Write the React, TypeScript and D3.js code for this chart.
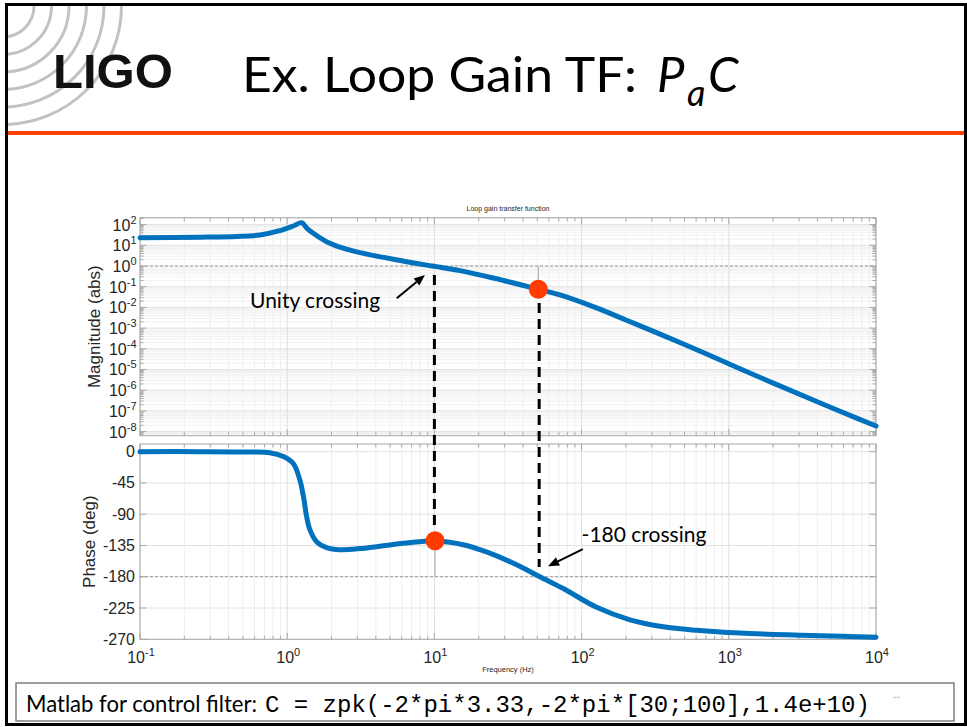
import * as d3 from "d3";
import React from "react";

const W = 967;
const H = 727;

// loop gain: frequency (Hz) vs magnitude (abs)
const magFreq = [0.1, 0.256, 0.45, 0.653, 0.889, 1.1, 1.255, 1.363, 1.504, 1.85, 2.4, 3.12, 5.26, 8.87, 10.3, 14.9, 25.1, 50.8, 71.3, 120, 202, 341, 707, 1191, 2006, 3380, 5690, 10000];
const magValue = [23.3, 24.6, 26.6, 31.5, 50.7, 85.6, 123.6, 66, 38, 14.9, 7.2, 4.4, 2.1, 1.1, 0.93, 0.6, 0.263, 0.0749, 0.0398, 0.0108, 0.0024, 0.00051, 0.000056, 0.0000108, 0.0000022, 4.6e-7, 9.6e-8, 1.86e-8];

// frequency (Hz) vs phase (deg)
const phaseFreq = [0.1, 0.256, 0.559, 0.764, 0.941, 1.1, 1.22, 1.29, 1.357, 1.43, 1.59, 1.85, 2.28, 3.12, 4.27, 7.19, 10.1, 15.7, 20.4, 26.5, 38, 52, 75.1, 126.6, 213, 359, 605, 1191, 3050, 10000];
const phaseValue = [0, 0, -0.5, -1.5, -7, -17, -41, -65, -94, -113, -130, -138, -141, -139.5, -136, -130.5, -128.3, -134, -141, -150, -165, -180, -197, -224, -242, -252, -257, -261, -264, -267];

const xTickExp = [-1, 0, 1, 2, 3, 4];
const magTickExp = [2, 1, 0, -1, -2, -3, -4, -5, -6, -7, -8];
const phaseTicks = [0, -45, -90, -135, -180, -225, -270];

// annotations (data coordinates)
const magDot = { f: 50.8, v: 0.0749 };
const phaseDot = { f: 10.1, v: -128.3 };
const dashUnity = { f: 10, magFrom: 0.37, phaseTo: -113 };
const dashPhase = { f: 51.5, magFrom: 0.0163, phaseTo: -166 };
const unityArrow = { f0: 5.55, v0: 0.0275, f1: 8.63, v1: 0.367 };
const phaseArrow = { f0: 102, v0: -140.3, f1: 59.2, v1: -164.8 };
const unityLabel = { f: 0.559, v: 0.0093, text: "Unity crossing" };
const phaseLabel = { f: 100, v: -130, text: "-180 crossing" };

const logoArcRadii = [31, 48.5, 66, 83.5, 101, 118.5];

const left = 140;
const right = 876;
const magTop = 217.7;
const magBottom = 435.7;
const phTop = 444;
const phBottom = 639.3;

const x = d3.scaleLog().domain([0.1, 1e4]).range([left, right]);
const yMag = d3.scaleLog().domain([10 ** -8.198, 10 ** 2.333]).range([magBottom, magTop]);
const yPh = d3.scaleLinear().domain([-270, 11]).range([phBottom, phTop]);

const minorOf = (exps: number[]) =>
  exps.flatMap((k) => d3.range(2, 10).map((m) => m * 10 ** k));

const xMinor = minorOf([-1, 0, 1, 2, 3]);
const magMinor = minorOf(d3.range(-9, 3)).filter(
  (v) => v > yMag.domain()[0] && v < yMag.domain()[1]
);

const sans = "'Liberation Sans', Arial, sans-serif";
const slideFont = "Lato, 'Open Sans', sans-serif";
const axisGray = "#a8a8a8";
const textGray = "#262626";
const blue = "#0072BD";
const red = "#ff3b00";

const magLine = d3
  .line<number>()
  .x((d, i) => x(magFreq[i]))
  .y((d) => yMag(d))
  .curve(d3.curveCatmullRom.alpha(0.5));

const phaseLine = d3
  .line<number>()
  .x((d, i) => x(phaseFreq[i]))
  .y((d) => yPh(d))
  .curve(d3.curveCatmullRom.alpha(0.5));

const Panel = ({ top, bottom, kind }: { top: number; bottom: number; kind: "mag" | "ph" }) => {
  const hMajor = kind === "mag" ? magTickExp.map((e) => yMag(10 ** e)) : phaseTicks.map((t) => yPh(t));
  const hMinor = kind === "mag" ? magMinor.map((v) => yMag(v)) : [];
  return (
    <g>
      {/* grid */}
      {xMinor.map((f) => (
        <line key={"vm" + f} x1={x(f)} x2={x(f)} y1={top} y2={bottom} stroke="#efefef" />
      ))}
      {hMinor.map((y, i) => (
        <line key={"hm" + i} x1={left} x2={right} y1={y} y2={y} stroke="#f1f1f1" />
      ))}
      {xTickExp.map((e) => (
        <line key={"vM" + e} x1={x(10 ** e)} x2={x(10 ** e)} y1={top} y2={bottom} stroke="#dedede" />
      ))}
      {hMajor.map((y, i) => (
        <line key={"hM" + i} x1={left} x2={right} y1={y} y2={y} stroke="#e2e2e2" />
      ))}
      {/* ticks */}
      {xMinor.map((f) => (
        <g key={"tm" + f} stroke={axisGray}>
          <line x1={x(f)} x2={x(f)} y1={top} y2={top + 3.5} />
          <line x1={x(f)} x2={x(f)} y1={bottom} y2={bottom - 3.5} />
        </g>
      ))}
      {xTickExp.map((e) => (
        <g key={"tM" + e} stroke={axisGray}>
          <line x1={x(10 ** e)} x2={x(10 ** e)} y1={top} y2={top + 6.5} />
          <line x1={x(10 ** e)} x2={x(10 ** e)} y1={bottom} y2={bottom - 6.5} />
        </g>
      ))}
      {hMinor.map((y, i) => (
        <g key={"ym" + i} stroke={axisGray}>
          <line x1={left} x2={left + 3.5} y1={y} y2={y} />
          <line x1={right} x2={right - 3.5} y1={y} y2={y} />
        </g>
      ))}
      {hMajor.map((y, i) => (
        <g key={"yM" + i} stroke={axisGray}>
          <line x1={left} x2={left + 6.5} y1={y} y2={y} />
          <line x1={right} x2={right - 6.5} y1={y} y2={y} />
        </g>
      ))}
      <rect x={left} y={top} width={right - left} height={bottom - top} fill="none" stroke={axisGray} />
    </g>
  );
};

const arrowPath = (x0: number, y0: number, x1: number, y1: number) => {
  const ang = Math.atan2(y1 - y0, x1 - x0);
  const len = 11;
  const wid = 4.5;
  const bx = x1 - len * Math.cos(ang);
  const by = y1 - len * Math.sin(ang);
  const px = -Math.sin(ang) * wid;
  const py = Math.cos(ang) * wid;
  return {
    shaft: `M${x0},${y0}L${bx},${by}`,
    head: `M${x1},${y1}L${bx + px},${by + py}L${bx - px},${by - py}Z`,
  };
};

const App = () => {
  const ua = arrowPath(x(unityArrow.f0), yMag(unityArrow.v0), x(unityArrow.f1), yMag(unityArrow.v1));
  const pa = arrowPath(x(phaseArrow.f0), yPh(phaseArrow.v0), x(phaseArrow.f1), yPh(phaseArrow.v1));
  return (
    <svg width={W} height={H} style={{ position: "absolute", left: 0, top: 0, background: "#fff" }}>
      <defs>
        <clipPath id="slide">
          <rect x={8} y={6} width={956} height={716} />
        </clipPath>
      </defs>

      {/* header */}
      <g clipPath="url(#slide)">
        {logoArcRadii.map((r) => (
          <path key={r} d={`M${3 + r},6A${r},${r} 0 0 1 3,${6 + r}`} fill="none" stroke="#c2c2c2" strokeWidth={3} />
        ))}
      </g>
      <text x={53} y={88} fontFamily={sans} fontWeight={900} fontSize={49} fill="#111" textLength={120} lengthAdjust="spacingAndGlyphs">
        LIGO
      </text>
      <text x={242} y={92} fontFamily={slideFont} fontSize={49} fill="#000" textLength={395} lengthAdjust="spacingAndGlyphs">
        Ex. Loop Gain TF:
      </text>
      <text x={657} y={92} fontFamily={slideFont} fontStyle="italic" fontSize={49} fill="#000">P</text>
      <text x={687} y={106} fontFamily={slideFont} fontStyle="italic" fontSize={36} fill="#000">a</text>
      <text x={708} y={92} fontFamily={slideFont} fontStyle="italic" fontSize={49} fill="#000">C</text>
      <line x1={8} x2={965} y1={133} y2={133} stroke="#ff4000" strokeWidth={4} />

      {/* chart */}
      <Panel top={magTop} bottom={magBottom} kind="mag" />
      <Panel top={phTop} bottom={phBottom} kind="ph" />
      <line x1={left} x2={right} y1={yMag(1)} y2={yMag(1)} stroke="#9a9a9a" strokeDasharray="3,2" />
      <line x1={left} x2={right} y1={yPh(-180)} y2={yPh(-180)} stroke="#9a9a9a" strokeDasharray="3,2" />

      <text x={(left + right) / 2} y={210.5} textAnchor="middle" fontFamily={sans} fontSize={7} fill={textGray}>
        Loop gain transfer function
      </text>
      <text x={(left + right) / 2} y={672} textAnchor="middle" fontFamily={sans} fontSize={7.5} fill={textGray}>
        Frequency  (Hz)
      </text>
      <text transform={`translate(100,${(magTop + magBottom) / 2}) rotate(-90)`} textAnchor="middle" fontFamily={sans} fontSize={17} fill={textGray}>
        Magnitude (abs)
      </text>
      <text transform={`translate(95,${(phTop + phBottom) / 2}) rotate(-90)`} textAnchor="middle" fontFamily={sans} fontSize={17} fill={textGray}>
        Phase (deg)
      </text>

      {magTickExp.map((e) => (
        <text key={"ml" + e} x={136.5} y={yMag(10 ** e) + 6} textAnchor="end" fontFamily={sans} fontSize={16} fill={textGray}>
          10<tspan dy={-7} fontSize={11}>{e}</tspan>
        </text>
      ))}
      {phaseTicks.map((t) => (
        <text key={"pl" + t} x={135} y={yPh(t) + 5.5} textAnchor="end" fontFamily={sans} fontSize={16} fill={textGray}>
          {t}
        </text>
      ))}
      {xTickExp.map((e) => (
        <text key={"xl" + e} x={x(10 ** e) + 1} y={663} textAnchor="middle" fontFamily={sans} fontSize={16} fill={textGray}>
          10<tspan dy={-7} fontSize={11}>{e}</tspan>
        </text>
      ))}

      {/* data tip stems */}
      <line x1={x(magDot.f)} x2={x(magDot.f)} y1={yMag(1)} y2={yMag(magDot.v)} stroke="#aaa" />
      <line x1={x(phaseDot.f)} x2={x(phaseDot.f)} y1={yPh(phaseDot.v)} y2={yPh(-180)} stroke="#aaa" />

      <path d={magLine(magValue) ?? ""} fill="none" stroke={blue} strokeWidth={5} strokeLinejoin="round" strokeLinecap="round" />
      <path d={phaseLine(phaseValue) ?? ""} fill="none" stroke={blue} strokeWidth={5} strokeLinejoin="round" strokeLinecap="round" />

      {/* annotations */}
      {[dashUnity, dashPhase].map((d) => (
        <line key={d.f} x1={x(d.f)} x2={x(d.f)} y1={yMag(d.magFrom)} y2={yPh(d.phaseTo)} stroke="#000" strokeWidth={3} strokeDasharray="10,6" />
      ))}
      <circle cx={x(magDot.f)} cy={yMag(magDot.v)} r={9.5} fill={red} />
      <circle cx={x(phaseDot.f)} cy={yPh(phaseDot.v)} r={9.5} fill={red} />
      {[ua, pa].map((a, i) => (
        <g key={i}>
          <path d={a.shaft} stroke="#000" strokeWidth={2} />
          <path d={a.head} fill="#000" />
        </g>
      ))}
      <text x={x(unityLabel.f)} y={yMag(unityLabel.v)} fontFamily={slideFont} fontSize={21} fill="#000">
        {unityLabel.text}
      </text>
      <text x={x(phaseLabel.f)} y={yPh(phaseLabel.v)} fontFamily={slideFont} fontSize={21} fill="#000">
        {phaseLabel.text}
      </text>

      {/* code box */}
      <rect x={16} y={683} width={938} height={38} fill="none" stroke="#808080" strokeWidth={1.5} />
      <text x={26} y={711.5} fontFamily={slideFont} fontSize={23} fill="#000" textLength={231} lengthAdjust="spacingAndGlyphs">
        Matlab for control filter:
      </text>
      <text x={265} y={711.5} fontFamily="'Liberation Mono', 'DejaVu Sans Mono', monospace" fontSize={24} fill="#000" xmlSpace="preserve">
        C = zpk(-2*pi*3.33,-2*pi*[30;100],1.4e+10)
      </text>
      <text x={893} y={704} fontFamily={sans} fontSize={11} fill="#b5b5b5">˘˘</text>

      {/* slide frame */}
      <rect x={6.5} y={4.5} width={959} height={720} fill="none" stroke="#000" strokeWidth={3} />
    </svg>
  );
};

export default App;
